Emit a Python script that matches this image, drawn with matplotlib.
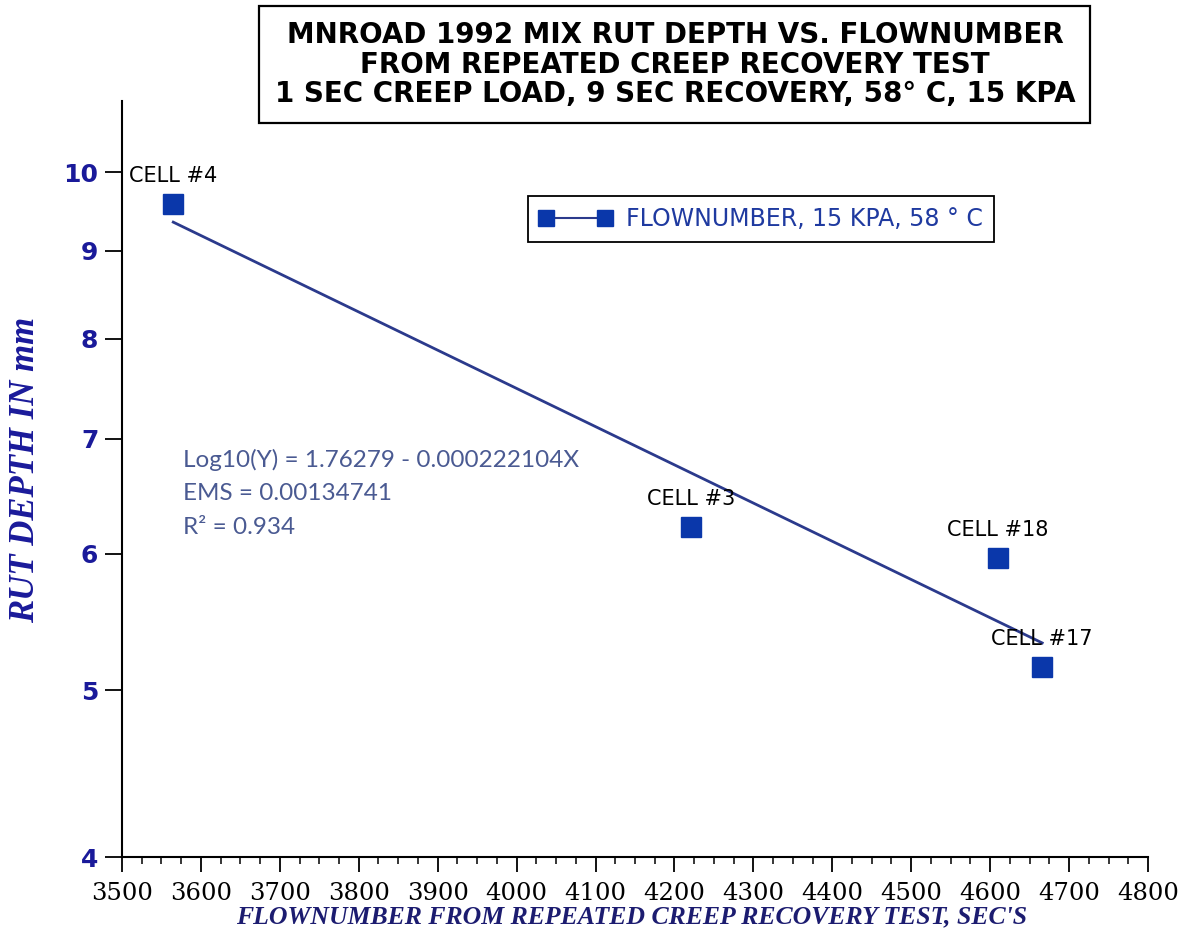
import numpy as np
import matplotlib
matplotlib.use('Agg')
import matplotlib.pyplot as plt
from matplotlib.lines import Line2D
from matplotlib.ticker import MultipleLocator, NullLocator, FixedLocator

#####################################

cells = ['CELL #4', 'CELL #3', 'CELL #18', 'CELL #17']
flownumber = [3565, 4221, 4610, 4666]
rut_depth = [9.59, 6.22, 5.97, 5.16]

# regression printed on the chart
intercept = 1.76279
slope = -0.000222104
fit_text = ['Log10(Y) = 1.76279 - 0.000222104X', 'EMS = 0.00134741', 'R\u00b2 = 0.934']

yticks = [4, 5, 6, 7, 8, 9, 10]
xticks = list(range(3500, 4800 + 1, 100))

title = ['MNROAD 1992 MIX RUT DEPTH VS. FLOWNUMBER',
         'FROM REPEATED CREEP RECOVERY TEST',
         '1 SEC CREEP LOAD, 9 SEC RECOVERY, 58\u00b0 C, 15 KPA']
legend_label = 'FLOWNUMBER, 15 KPA, 58 \u00b0 C'

#####################################

blue_pt = '#0a37aa'
blue_line = '#2b3a8c'
blue_txt = '#1a1a9a'

fig = plt.figure(figsize=(11.83, 9.36), dpi=100)
ax = fig.add_axes([0.1031, 0.0844, 0.8673, 0.8077])

# trend line over the data range
xs = np.linspace(min(flownumber), max(flownumber), 50)
ax.plot(xs, 10 ** (intercept + slope * xs), color=blue_line, lw=2.0, zorder=2)

ax.plot(flownumber, rut_depth, 's', color=blue_pt, ms=14, zorder=3)

for name, x, y in zip(cells, flownumber, rut_depth):
    ax.annotate(name, (x, y), xytext=(0, 20), textcoords='offset points',
                ha='center', va='center', fontsize=15, color='black',
                family='DejaVu Sans', zorder=4)

ax.text(0.0595, 0.481, '\n'.join(fit_text), transform=ax.transAxes,
        ha='left', va='center', fontsize=17.5, color='#4a5a92',
        family='Lato', linespacing=1.75)

ax.set_yscale('log')
ax.set_ylim(4, 11)
ax.set_xlim(3500, 4800)
ax.yaxis.set_major_locator(FixedLocator(yticks))
ax.yaxis.set_minor_locator(NullLocator())
ax.set_yticklabels([str(t) for t in yticks])
ax.xaxis.set_major_locator(FixedLocator(xticks))
ax.xaxis.set_minor_locator(MultipleLocator(25))
ax.set_xticklabels([str(t) for t in xticks])

for s in ['top', 'right']:
    ax.spines[s].set_visible(False)
for s in ['left', 'bottom']:
    ax.spines[s].set_linewidth(1.5)

ax.tick_params(axis='y', which='major', length=12, width=1.3, pad=5,
               labelsize=18, labelcolor=blue_txt)
ax.tick_params(axis='x', which='major', length=11, width=1.3, pad=7,
               labelsize=17.5)
ax.tick_params(axis='x', which='minor', length=5, width=1.1)
for lab in ax.get_yticklabels():
    lab.set_fontweight('bold')
for lab in ax.get_xticklabels():
    lab.set_family('DejaVu Serif')

ax.set_xlabel("FLOWNUMBER FROM REPEATED CREEP RECOVERY TEST, SEC'S",
              family='Liberation Serif', style='italic', fontweight='bold',
              fontsize=18.5, color='#1c1c70')
ax.xaxis.set_label_coords(0.497, -0.064)
ax.set_ylabel('RUT DEPTH IN mm', family='Liberation Serif', style='italic',
              fontweight='bold', fontsize=25, color=blue_txt)
ax.yaxis.set_label_coords(-0.078, 0.512)

handle = Line2D([], [], color=blue_line, lw=1.5, marker='s', ms=11,
                mfc=blue_pt, mec=blue_pt)
leg = ax.legend([handle], [legend_label], numpoints=2, loc='upper left',
                bbox_to_anchor=(0.396, 0.874), borderaxespad=0, fontsize=17,
                handlelength=3.1, fancybox=False, framealpha=1,
                edgecolor='black', borderpad=0.45, handletextpad=0.6)
leg.get_frame().set_linewidth(1.3)
for t in leg.get_texts():
    t.set_color('#1f3aa0')

fig.text(0.5705, 0.931, '\n'.join(title), ha='center', va='center',
         fontsize=20, fontweight='bold', linespacing=1.05,
         multialignment='center',
         bbox=dict(boxstyle='square,pad=0.55', fc='white', ec='black', lw=1.6))

plt.savefig('out.png', dpi=100)
